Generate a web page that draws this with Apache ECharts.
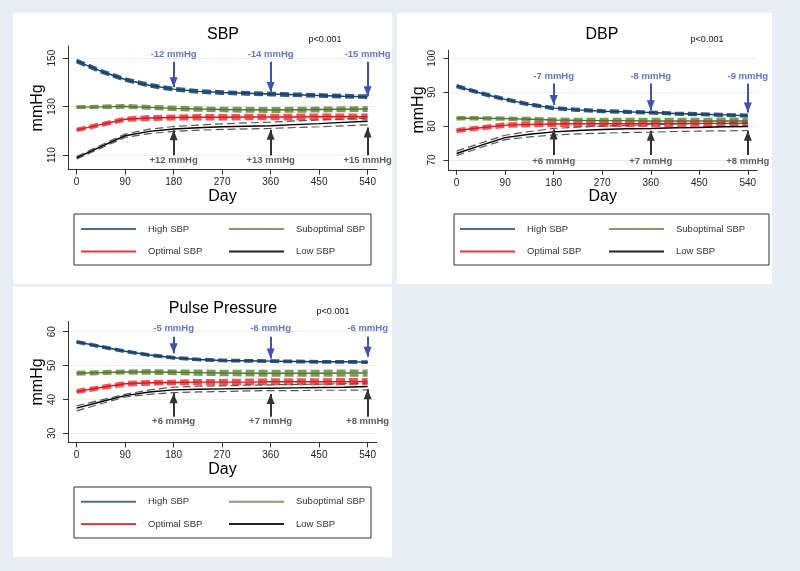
<!DOCTYPE html>
<html><head><meta charset="utf-8">
<script src="https://cdn.jsdelivr.net/npm/echarts@6/dist/echarts.min.js"></script>
<style>html,body{margin:0;padding:0;background:#e7eff4}#c{width:800px;height:571px}</style>
</head><body><div id="c"></div>
<script>
// ---------- DATA ----------
const days = [0,45,90,135,180,225,270,315,360,405,450,495,540];
const groups = ['High SBP','Suboptimal SBP','Optimal SBP','Low SBP'];
const xTicks = [0,90,180,270,360,450,540];
const sbpTicks = [110,130,150];
const dbpTicks = [70,80,90,100];
const ppTicks = [30,40,50,60];

// SBP panel
const sbpHigh   = [148.8,144.6,141.2,138.8,137.2,136.3,135.8,135.5,135.2,134.9,134.6,134.3,134.1];
const sbpHighLo = [148.4,144.2,140.8,138.4,136.8,135.9,135.4,135.1,134.8,134.5,134.2,133.9,133.7];
const sbpHighHi = [149.2,145.0,141.6,139.2,137.6,136.7,136.2,135.9,135.6,135.3,135.0,134.7,134.5];
const sbpSub    = [129.8,129.9,130.1,129.7,129.3,129.0,128.8,128.7,128.6,128.7,128.8,128.9,129.0];
const sbpSubLo  = [129.6,129.6,129.7,129.3,128.8,128.5,128.3,128.1,128.0,128.1,128.2,128.3,128.4];
const sbpSubHi  = [130.0,130.2,130.5,130.1,129.8,129.5,129.3,129.3,129.2,129.3,129.4,129.5,129.6];
const sbpOpt    = [120.4,122.6,124.8,125.3,125.5,125.6,125.6,125.7,125.7,125.7,125.8,125.8,125.8];
const sbpOptLo  = [120.1,122.2,124.3,124.7,124.9,124.9,124.9,125.0,125.0,124.9,125.0,125.0,125.0];
const sbpOptHi  = [120.7,123.0,125.3,125.9,126.1,126.3,126.3,126.4,126.4,126.5,126.6,126.6,126.6];
const sbpLow    = [108.9,113.5,118.0,119.8,120.8,121.3,121.7,121.9,122.1,122.6,123.0,123.5,124.0];
const sbpLowLo  = [108.4,112.9,117.3,118.9,119.8,120.3,120.6,120.8,121.0,121.4,121.7,122.1,122.5];
const sbpLowHi  = [109.4,114.1,118.7,120.7,121.8,122.4,122.9,123.3,123.6,124.1,124.5,124.9,125.3];

// DBP panel
const dbpHigh   = [91.8,89.7,87.9,86.4,85.3,84.8,84.4,84.2,84.0,83.7,83.5,83.3,83.1];
const dbpHighLo = [91.6,89.5,87.7,86.2,85.1,84.6,84.2,84.0,83.8,83.5,83.3,83.1,82.9];
const dbpHighHi = [92.0,89.9,88.1,86.6,85.5,85.0,84.6,84.4,84.2,83.9,83.7,83.5,83.3];
const dbpSub    = [82.3,82.3,82.2,82.0,81.8,81.7,81.6,81.6,81.5,81.5,81.5,81.5,81.5];
const dbpSubLo  = [82.1,82.1,82.0,81.7,81.5,81.3,81.2,81.1,81.0,81.0,81.0,80.9,80.9];
const dbpSubHi  = [82.5,82.5,82.4,82.3,82.1,82.0,82.0,82.0,82.0,82.0,82.0,82.1,82.1];
const dbpOpt    = [78.7,79.5,80.3,80.5,80.6,80.7,80.7,80.7,80.8,80.8,80.8,80.8,80.8];
const dbpOptLo  = [78.4,79.2,79.9,80.1,80.2,80.2,80.2,80.2,80.2,80.2,80.2,80.2,80.2];
const dbpOptHi  = [79.0,79.8,80.7,80.9,81.0,81.1,81.2,81.3,81.3,81.4,81.4,81.5,81.5];
const dbpLow    = [71.9,74.3,76.6,77.6,78.3,78.7,79.0,79.2,79.3,79.5,79.6,79.8,79.9];
const dbpLowLo  = [71.3,73.7,76.0,76.8,77.4,77.7,77.9,78.1,78.2,78.4,78.5,78.6,78.7];
const dbpLowHi  = [72.6,75.0,77.3,78.4,79.3,79.7,80.0,80.2,80.4,80.6,80.7,80.9,81.0];

// Pulse pressure panel
const ppHigh   = [57.0,55.6,54.2,53.1,52.3,51.8,51.5,51.4,51.3,51.2,51.1,51.1,51.0];
const ppHighLo = [56.85,55.45,54.05,52.95,52.15,51.65,51.35,51.25,51.15,51.05,50.95,50.95,50.85];
const ppHighHi = [57.15,55.75,54.35,53.25,52.45,51.95,51.65,51.55,51.45,51.35,51.25,51.25,51.15];
const ppSub    = [47.7,47.9,48.1,48.1,48.0,47.9,47.8,47.7,47.7,47.7,47.7,47.8,47.8];
const ppSubLo  = [47.4,47.6,47.8,47.7,47.6,47.4,47.3,47.2,47.1,47.1,47.1,47.1,47.1];
const ppSubHi  = [48.0,48.2,48.4,48.5,48.4,48.4,48.3,48.3,48.3,48.3,48.3,48.4,48.4];
const ppOpt    = [42.3,43.5,44.6,44.9,45.0,45.1,45.1,45.1,45.2,45.2,45.2,45.2,45.3];
const ppOptLo  = [42.0,43.2,44.2,44.5,44.6,44.6,44.6,44.6,44.6,44.6,44.6,44.6,44.7];
const ppOptHi  = [42.6,43.8,45.0,45.3,45.4,45.6,45.6,45.7,45.8,45.8,45.8,45.9,45.9];
const ppLow    = [37.4,39.3,41.1,42.2,42.8,43.0,43.1,43.2,43.3,43.4,43.5,43.6,43.8];
const ppLowLo  = [36.6,38.7,40.7,41.5,42.0,42.2,42.3,42.5,42.6,42.6,42.7,42.7,42.8];
const ppLowHi  = [38.1,39.8,41.5,42.8,43.6,43.9,44.0,44.2,44.3,44.4,44.5,44.6,44.8];

// Annotations (days, label texts, arrow ends in mmHg)
const annDays = [180,360,540];
const sbpDrops = ['-12 mmHg','-14 mmHg','-15 mmHg'];
const sbpRises = ['+12 mmHg','+13 mmHg','+15 mmHg'];
const dbpDrops = ['-7 mmHg','-8 mmHg','-9 mmHg'];
const dbpRises = ['+6 mmHg','+7 mmHg','+8 mmHg'];
const ppDrops  = ['-5 mmHg','-6 mmHg','-6 mmHg'];
const ppRises  = ['+6 mmHg','+7 mmHg','+8 mmHg'];
const sbpDropTips = [138.0,136.0,134.3];
const sbpRiseTips = [120.3,120.5,121.4];
const dbpDropTips = [86.2,84.7,84.0];
const dbpRiseTips = [79.0,78.6,78.6];
const ppDropTips  = [53.6,52.1,52.6];
const ppRiseTips  = [41.8,41.6,43.0];
// label / arrow-base levels (mmHg) per panel: [dropLabel, dropBase, riseBase, riseLabel]
const sbpAnnLevels = [151.6,148.5,110.0,107.9];
const dbpAnnLevels = [94.8,92.6,71.5,69.7];
const ppAnnLevels  = [61.0,58.5,34.9,33.4];

// ---------- STYLE / LAYOUT ----------
const FONT = "'Liberation Sans', Arial, Helvetica, sans-serif";
const BLUE = '#3e51b5', DARK = '#333333';
const gStyle = {
  'High SBP':       {line:'#1c3e64', ci:'#2f5b87', legend:'#4a6d92', ciW:2.8, dash:[9,4]},
  'Suboptimal SBP': {line:'#4f7530', ci:'#7a9b56', legend:'#8a9a70', ciW:3.0, dash:[9,4]},
  'Optimal SBP':    {line:'#e0151a', ci:'#ee5558', legend:'#e8383c', ciW:3.0, dash:[9,4]},
  'Low SBP':        {line:'#000000', ci:'#555555', legend:'#222222', ciW:1.2, dash:[8,4]}
};

const panels = [
  {title:'SBP', tx:223, ty:35, px:325, py:40,
   bg:{x:13,y:13,width:379,height:271},
   grid:{left:68, top:46, width:308.8, height:123.7},
   xMin:-16, xMax:557, yMin:104, yMax:155, yTicks:sbpTicks,
   data:{'High SBP':[sbpHighLo,sbpHigh,sbpHighHi],'Suboptimal SBP':[sbpSubLo,sbpSub,sbpSubHi],
         'Optimal SBP':[sbpOptLo,sbpOpt,sbpOptHi],'Low SBP':[sbpLowLo,sbpLow,sbpLowHi]},
   drops:sbpDrops, rises:sbpRises, dropTips:sbpDropTips, riseTips:sbpRiseTips, lv:sbpAnnLevels,
   box:{x:74,y:214,width:297,height:51}, leg1:81, leg2:229, legTop:223.5, legGap:11.5},
  {title:'DBP', tx:602, ty:35, px:707, py:40,
   bg:{x:397,y:13,width:375,height:271},
   grid:{left:448.5, top:50.2, width:308.5, height:119.6},
   xMin:-15, xMax:557, yMin:67.1, yMax:102.4, yTicks:dbpTicks,
   data:{'High SBP':[dbpHighLo,dbpHigh,dbpHighHi],'Suboptimal SBP':[dbpSubLo,dbpSub,dbpSubHi],
         'Optimal SBP':[dbpOptLo,dbpOpt,dbpOptHi],'Low SBP':[dbpLowLo,dbpLow,dbpLowHi]},
   drops:dbpDrops, rises:dbpRises, dropTips:dbpDropTips, riseTips:dbpRiseTips, lv:dbpAnnLevels,
   box:{x:454,y:214,width:315,height:51}, leg1:460, leg2:609, legTop:223.5, legGap:11.5},
  {title:'Pulse Pressure', tx:223, ty:309, px:333, py:312,
   bg:{x:13,y:287,width:379,height:270},
   grid:{left:68, top:321.5, width:308.8, height:120.9},
   xMin:-16, xMax:557, yMin:27.3, yMax:63, yTicks:ppTicks,
   data:{'High SBP':[ppHighLo,ppHigh,ppHighHi],'Suboptimal SBP':[ppSubLo,ppSub,ppSubHi],
         'Optimal SBP':[ppOptLo,ppOpt,ppOptHi],'Low SBP':[ppLowLo,ppLow,ppLowHi]},
   drops:ppDrops, rises:ppRises, dropTips:ppDropTips, riseTips:ppRiseTips, lv:ppAnnLevels,
   box:{x:74,y:487,width:297,height:51}, leg1:81, leg2:229, legTop:496.2, legGap:11.3}
];

const pair = arr => days.map((d,i)=>[d,arr[i]]);
const grids=[], xAxes=[], yAxes=[], series=[], legends=[], graphics=[];

panels.forEach((p,pi)=>{
  graphics.push({type:'rect', shape:p.bg, style:{fill:'#ffffff'}, z:-20, silent:true});
  graphics.push({type:'rect', shape:p.box, style:{fill:'none', stroke:'#333', lineWidth:1}, z:-5, silent:true});
  graphics.push({type:'text', x:p.tx, y:p.ty, style:{text:p.title, font:`16px ${FONT}`, fill:'#000', align:'center', verticalAlign:'middle'}});
  graphics.push({type:'text', x:p.px, y:p.py, style:{text:'p<0.001', font:`9px ${FONT}`, fill:'#111', align:'center', verticalAlign:'middle'}});

  grids.push(Object.assign({containLabel:false}, p.grid));
  xAxes.push({type:'value', gridIndex:pi, min:p.xMin, max:p.xMax,
    axisLine:{show:true, onZero:false, lineStyle:{color:'#333', width:1}},
    axisTick:{show:true, customValues:xTicks, length:5, lineStyle:{color:'#333'}},
    axisLabel:{customValues:xTicks, margin:8, fontSize:10, color:'#222', fontFamily:FONT},
    splitLine:{show:false},
    name:'Day', nameLocation:'middle', nameGap:19,
    nameTextStyle:{fontSize:16, color:'#000', fontFamily:FONT}});
  yAxes.push({type:'value', gridIndex:pi, min:p.yMin, max:p.yMax,
    axisLine:{show:true, onZero:false, lineStyle:{color:'#333', width:1}},
    axisTick:{show:true, customValues:p.yTicks, length:5, lineStyle:{color:'#333'}},
    axisLabel:{customValues:p.yTicks, rotate:90, margin:11, fontSize:10, color:'#222', fontFamily:FONT},
    splitLine:{show:true, lineStyle:{color:'#e9eff3', width:1}},
    name:'mmHg', nameLocation:'middle', nameGap:22,
    nameTextStyle:{fontSize:16, color:'#000', fontFamily:FONT}});

  groups.forEach(g=>{
    const st = gStyle[g];
    const [lo,c,hi] = p.data[g];
    [lo,hi].forEach(arr=>series.push({type:'line', name:g+' CI', xAxisIndex:pi, yAxisIndex:pi,
      data:pair(arr), symbol:'none', silent:true, z:2,
      lineStyle:{color:st.ci, width:st.ciW, type:st.dash}}));
    series.push({type:'line', name:g, xAxisIndex:pi, yAxisIndex:pi, data:pair(c), symbol:'none',
      silent:true, z:3, itemStyle:{color:st.legend}, lineStyle:{color:st.line, width:1.4}});
  });

  const ann = (texts, lvLabel, lvBase, tips, color) => ({
    type:'scatter', name:'ann', xAxisIndex:pi, yAxisIndex:pi, silent:true, z:5,
    symbolSize:0.1, itemStyle:{color:'rgba(0,0,0,0)'},
    data: annDays.map((d,i)=>({name:texts[i], value:[d,lvLabel]})),
    label:{show:true, position:'inside', formatter:'{b}', color:color, fontSize:9.5, fontWeight:'bold', fontFamily:FONT},
    markLine:{silent:true, animation:false, symbol:['none','triangle'], symbolSize:[8,10], symbolOffset:[[0,0],[0,5]],
      label:{show:false}, lineStyle:{color:color, width:2, type:'solid'}, itemStyle:{color:color},
      data: annDays.map((d,i)=>[{coord:[d,lvBase]},{coord:[d,tips[i]]}])}
  });
  series.push(ann(p.drops, p.lv[0], p.lv[1], p.dropTips, BLUE));
  series.push(ann(p.rises, p.lv[3], p.lv[2], p.riseTips, DARK));

  const legBase = {orient:'vertical', top:p.legTop, itemWidth:55, itemHeight:2, itemGap:p.legGap,
    icon:'rect', padding:0, selectedMode:false,
    textStyle:{fontSize:9.5, color:'#333', fontFamily:FONT, lineHeight:11, padding:[0,0,0,7]}};
  legends.push(Object.assign({}, legBase, {left:p.leg1,
    data:[{name:'High SBP', itemStyle:{color:gStyle['High SBP'].legend}},{name:'Optimal SBP', itemStyle:{color:gStyle['Optimal SBP'].legend}}]}));
  legends.push(Object.assign({}, legBase, {left:p.leg2,
    data:[{name:'Suboptimal SBP', itemStyle:{color:gStyle['Suboptimal SBP'].legend}},{name:'Low SBP', itemStyle:{color:gStyle['Low SBP'].legend}}]}));
});

const chart = echarts.init(document.getElementById('c'), null, {renderer:'canvas'});
chart.setOption({
  backgroundColor:'#e7eff4',
  animation:false,
  textStyle:{fontFamily:FONT},
  grid:grids, xAxis:xAxes, yAxis:yAxes, series:series, legend:legends,
  graphic:{elements:graphics}
});
</script></body></html>
